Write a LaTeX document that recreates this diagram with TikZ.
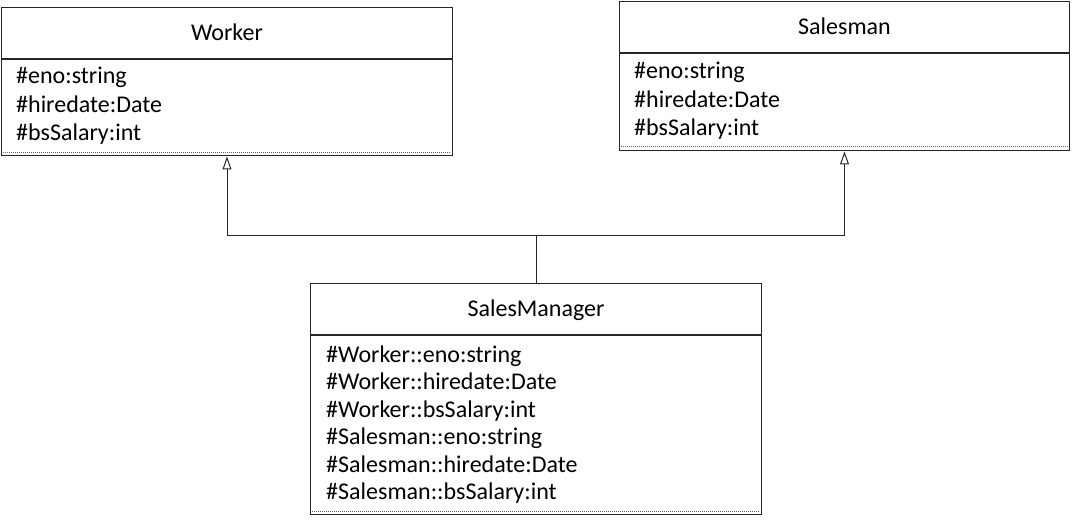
\documentclass[tikz,border=0pt]{standalone}
\usepackage{fontspec}
\setmainfont{Carlito}
\usetikzlibrary{arrows.meta}

\tikzset{
  classtitle/.style={draw=black!85, line width=1pt, minimum height=51pt, inner sep=0pt,
    text height=15pt, text depth=0pt, font=\fontsize{24}{28}\selectfont},
  classbody/.style={draw=black!85, line width=1pt, inner sep=0pt},
  attr/.style={anchor=base west, inner sep=0pt, font=\fontsize{24}{28}\selectfont},
  sepline/.style={black!60, line width=0.8pt, dash pattern=on 1pt off 1pt, shorten <=2pt, shorten >=2pt},
  inherit/.style={black!85, line width=1pt},
  toparent/.style={-{Triangle[open, length=13pt, width=9pt]}}
}

\begin{document}
\begin{tikzpicture}[x=1pt, y=-1pt]
	\useasboundingbox (0,0) rectangle (1073,521);
	% Worker
	\node[classtitle, minimum width=451pt] (worker) at (227,33) {Worker};
	\node[classbody, minimum width=451pt, minimum height=96.5pt, anchor=north] (workerbody) at (worker.south) {};
	\node[attr] (w1) at (16,84) {\#eno:string};
	\node[attr] (w2) at (16,112.5) {\#hiredate:Date};
	\node[attr] (w3) at (16,141) {\#bsSalary:int};
	\draw[sepline] ([yshift=4.5pt]workerbody.south west) -- ([yshift=4.5pt]workerbody.south east);
	% Salesman
	\node[classtitle, minimum width=450pt] (salesman) at (844.5,27) {Salesman};
	\node[classbody, minimum width=450pt, minimum height=97.5pt, anchor=north] (salesmanbody) at (salesman.south) {};
	\node[attr] (s1) at (634,79) {\#eno:string};
	\node[attr] (s2) at (634,107.5) {\#hiredate:Date};
	\node[attr] (s3) at (634,136) {\#bsSalary:int};
	\draw[sepline] ([yshift=5pt]salesmanbody.south west) -- ([yshift=5pt]salesmanbody.south east);
	% SalesManager
	\node[classtitle, minimum width=451pt] (manager) at (536,309) {SalesManager};
	\node[classbody, minimum width=451pt, minimum height=178.5pt, anchor=north] (managerbody) at (manager.south) {};
	\node[attr] (m1) at (326,362) {\#Worker::eno:string};
	\node[attr] (m2) at (326,389.5) {\#Worker::hiredate:Date};
	\node[attr] (m3) at (326,417) {\#Worker::bsSalary:int};
	\node[attr] (m4) at (326,444.5) {\#Salesman::eno:string};
	\node[attr] (m5) at (326,472) {\#Salesman::hiredate:Date};
	\node[attr] (m6) at (326,499.5) {\#Salesman::bsSalary:int};
	\draw[sepline] ([yshift=3.5pt]managerbody.south west) -- ([yshift=3.5pt]managerbody.south east);
	% inheritance
	\coordinate (join) at (536,236);
	\draw[inherit] (manager.north) -- (join);
	\draw[inherit, toparent] (join) -| (workerbody.south);
	\draw[inherit, toparent] (join) -| (salesmanbody.south);
\end{tikzpicture}
\end{document}
